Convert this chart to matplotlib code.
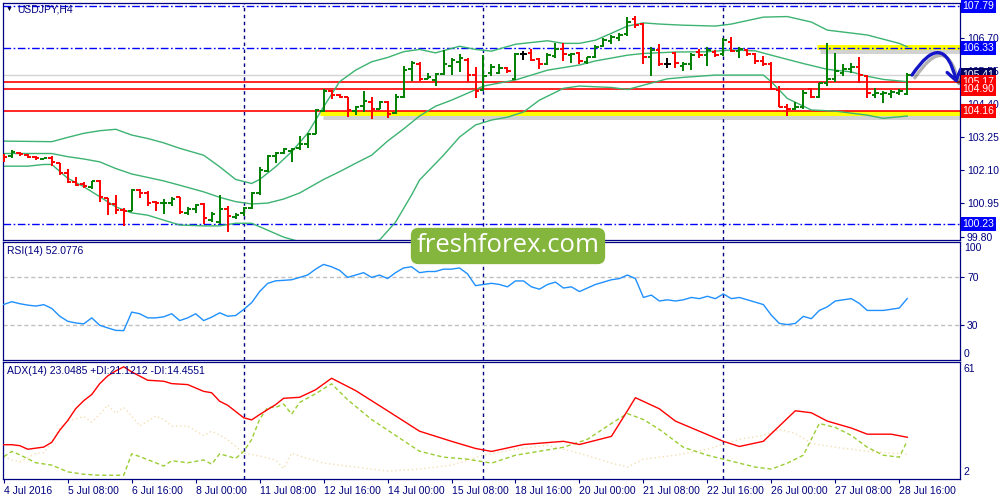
import matplotlib
matplotlib.use("Agg")
import matplotlib.pyplot as plt
import matplotlib.transforms as mtransforms
import matplotlib.patheffects as pe

# ---------------- data (USDJPY H4, bars 0..113) ----------------
opens = [102.60, 102.58, 102.70, 102.62, 102.57, 102.49, 102.54, 102.34, 102.00, 101.70,
         101.63, 101.51, 101.72, 101.12, 100.92, 100.72, 100.70, 101.41, 101.32, 101.00,
         100.95, 100.97, 101.16, 100.62, 100.76, 100.93, 100.39, 100.30, 100.75, 100.49,
         100.60, 100.80, 101.32, 102.08, 102.58, 102.70, 102.76, 102.86, 103.01, 103.35,
         104.16, 104.84, 104.71, 104.63, 104.16, 104.32, 104.48, 104.24, 104.46, 104.07,
         104.63, 105.60, 105.80, 105.28, 105.23, 105.43, 105.72, 105.86, 105.94, 105.40,
         104.88, 105.46, 105.48, 105.63, 105.25, 106.13, 106.17, 105.95, 105.80, 106.06,
         106.32, 106.09, 106.15, 105.84, 106.01, 106.40, 106.59, 106.67, 106.81, 107.33,
         107.17, 106.01, 106.27, 105.80, 106.15, 105.71, 105.80, 106.21, 106.09, 106.21,
         106.13, 106.55, 106.24, 106.27, 106.13, 105.89, 105.80, 104.88, 104.28, 104.22,
         104.28, 104.90, 104.63, 105.11, 105.25, 105.48, 105.60, 105.67, 105.36, 104.71,
         104.74, 104.74, 104.79, 104.76]
highs = [102.66, 102.80, 102.72, 102.65, 102.61, 102.54, 102.58, 102.36, 102.14, 101.87,
         101.70, 101.73, 101.75, 101.13, 101.24, 100.78, 101.44, 101.45, 101.38, 101.04,
         101.10, 101.18, 101.17, 100.82, 100.93, 100.95, 100.66, 101.23, 100.86, 100.60,
         100.83, 101.35, 102.22, 102.62, 102.74, 102.88, 102.86, 103.28, 103.40, 104.21,
         104.90, 104.88, 104.74, 104.65, 104.32, 104.85, 104.63, 104.51, 104.49, 104.76,
         105.71, 105.89, 105.86, 105.46, 105.48, 106.27, 105.98, 106.13, 105.98, 105.69,
         106.09, 105.78, 105.80, 105.69, 106.15, 106.24, 106.29, 105.98, 106.15, 106.50,
         106.50, 106.15, 106.21, 106.03, 106.44, 106.67, 106.79, 106.85, 107.40, 107.45,
         107.21, 106.36, 106.47, 105.98, 106.21, 105.86, 106.17, 106.29, 106.36, 106.27,
         106.70, 106.73, 106.38, 106.29, 106.17, 106.06, 105.86, 105.02, 104.39, 104.47,
         104.88, 104.94, 105.13, 106.50, 106.15, 105.80, 105.83, 106.01, 105.40, 104.94,
         104.85, 104.88, 104.90, 105.46]
lows = [102.39, 102.54, 102.60, 102.51, 102.45, 102.48, 102.24, 101.94, 101.64, 101.55,
        101.47, 101.44, 101.01, 100.54, 100.57, 100.17, 100.68, 101.12, 100.87, 100.69,
        100.59, 100.87, 100.58, 100.55, 100.60, 100.23, 100.29, 100.23, 99.97, 100.41,
        100.51, 100.75, 101.25, 102.05, 102.34, 102.68, 102.39, 102.80, 102.86, 103.34,
        104.13, 104.56, 104.59, 103.93, 104.01, 104.13, 103.86, 104.21, 103.92, 104.04,
        104.59, 105.20, 105.19, 105.25, 105.02, 105.40, 105.40, 105.51, 105.17, 104.59,
        104.85, 105.36, 105.43, 105.48, 105.23, 105.94, 105.89, 105.60, 105.75, 105.98,
        105.89, 105.83, 105.80, 105.78, 105.98, 106.38, 106.47, 106.59, 106.75, 107.02,
        105.80, 105.36, 105.71, 105.63, 105.63, 105.55, 105.57, 105.98, 105.71, 106.03,
        106.06, 106.21, 105.98, 106.06, 105.80, 105.71, 104.88, 104.28, 103.98, 104.19,
        104.24, 104.59, 104.59, 105.02, 105.17, 105.36, 105.48, 105.13, 104.59, 104.59,
        104.44, 104.59, 104.71, 104.71]
closes = [102.57, 102.74, 102.66, 102.57, 102.51, 102.53, 102.37, 102.01, 101.69, 101.58,
          101.56, 101.72, 101.16, 100.93, 100.72, 100.68, 101.42, 101.32, 100.98, 100.96,
          100.97, 101.09, 100.64, 100.75, 100.90, 100.43, 100.58, 100.75, 100.51, 100.55,
          100.80, 101.30, 102.10, 102.59, 102.69, 102.82, 102.82, 103.01, 103.35, 104.19,
          104.85, 104.71, 104.65, 104.19, 104.28, 104.49, 104.21, 104.46, 104.05, 104.63,
          105.57, 105.83, 105.28, 105.34, 105.43, 105.78, 105.92, 105.99, 105.40, 104.85,
          105.36, 105.69, 105.63, 105.54, 106.13, 106.13, 105.94, 105.80, 106.09, 106.32,
          106.12, 106.13, 105.89, 106.01, 106.38, 106.61, 106.73, 106.79, 107.25, 107.13,
          106.01, 106.27, 105.80, 105.80, 105.83, 105.80, 106.09, 106.09, 106.27, 106.09,
          106.61, 106.24, 106.29, 106.13, 105.89, 105.78, 104.90, 104.30, 104.24, 104.30,
          104.79, 104.63, 105.11, 105.25, 105.55, 105.60, 105.67, 105.40, 104.79, 104.79,
          104.79, 104.82, 104.85, 105.41]

# Bollinger bands (20, 2): (bar index, price)
bb_upper_idx = [0, 6, 8, 10, 12, 14, 16, 18, 20, 22, 25, 27, 29, 31, 32, 34, 36, 38, 40, 42, 44, 46,
                48, 50, 52, 54, 57, 59, 61, 64, 66, 68, 70, 72, 74, 76, 78, 80, 82, 85, 89, 91,
                95, 98, 101, 103, 108, 112, 113]
bb_upper = [103.11, 103.09, 103.24, 103.38, 103.47, 103.52, 103.32, 103.20, 103.05, 102.86, 102.62,
            102.22, 101.78, 101.64, 101.78, 102.22, 102.74, 103.38, 104.30, 105.17, 105.57, 105.86,
            106.01, 106.21, 106.29, 106.17, 106.40, 106.29, 106.23, 106.47, 106.53, 106.59, 106.50,
            106.50, 106.61, 106.85, 107.10, 107.21, 107.17, 107.13, 107.10, 107.17, 107.41, 107.43,
            107.24, 106.96, 106.79, 106.50, 106.38]
bb_mid_idx = [0, 6, 8, 10, 12, 14, 16, 18, 20, 22, 25, 27, 29, 31, 33, 35, 37, 40, 42, 44, 46, 48,
              50, 52, 54, 56, 58, 60, 64, 68, 72, 74, 78, 80, 84, 88, 91, 94, 96, 100, 103, 106,
              108, 110, 113]
bb_mid = [102.68, 102.68, 102.57, 102.49, 102.39, 102.16, 101.97, 101.85, 101.73, 101.58, 101.35,
          101.16, 101.01, 100.93, 100.96, 101.10, 101.31, 101.78, 102.05, 102.34, 102.62, 103.11,
          103.53, 103.98, 104.32, 104.53, 104.77, 105.02, 105.23, 105.57, 105.75, 105.89, 106.09,
          106.15, 106.20, 106.21, 106.27, 106.24, 106.09, 105.80, 105.60, 105.51, 105.36, 105.25,
          105.17]
bb_lower_idx = [0, 3, 5, 6, 8, 10, 12, 14, 16, 18, 20, 22, 25, 27, 29, 31, 33, 35, 37, 40, 43, 46,
                47, 49, 51, 52, 55, 57, 59, 61, 63, 65, 67, 70, 72, 76, 78, 80, 83, 85, 89, 95,
                96, 98, 101, 104, 108, 110, 113]
bb_lower = [102.24, 102.24, 102.30, 102.30, 101.82, 101.53, 101.18, 100.83, 100.62, 100.54, 100.37,
            100.20, 100.17, 100.17, 100.26, 100.26, 100.02, 99.78, 99.62, 99.55, 99.55, 99.62,
            99.68, 100.30, 101.24, 101.76, 102.62, 103.25, 103.67, 103.84, 103.94, 104.12, 104.53,
            104.94, 105.02, 104.97, 104.90, 105.05, 105.27, 105.32, 105.40, 105.40, 105.17, 104.59,
            104.19, 104.15, 104.01, 103.90, 103.98]

rsi = [47.1, 49.4, 47.7, 46.5, 45.7, 46.9, 43.7, 37.1, 32.8, 31.4, 30.6, 35.7, 29.4, 27.2, 25.1,
       24.9, 40.6, 39.2, 35.7, 35.7, 36.6, 39.2, 33.4, 35.7, 39.2, 33.4, 36.3, 40.0, 37.1, 37.7,
       42.8, 48.6, 58.0, 64.9, 67.1, 67.5, 68.0,
       70, 72, 77, 81, 79, 76, 70, 72, 74, 70, 72, 69, 74, 78, 79, 74, 75, 75, 77, 77,
       78, 73, 63, 64, 65, 64, 62, 67, 67, 62, 60, 64, 66, 61, 62, 58, 61, 64, 66, 68,
       69, 72, 69, 53, 55, 50, 51, 50, 51, 53, 52, 54, 52, 56, 52, 53, 51, 49, 47, 38,
       31, 30, 31, 37, 35, 42, 45, 50, 51, 52, 48, 42, 42, 42, 43, 44, 52.08]

adx_idx = [0, 1, 2, 3, 5, 6, 7, 8, 9, 10, 11, 12, 13, 14, 15, 16, 18, 20, 21, 23, 25, 26, 27, 28,
           30, 31, 32, 34, 35, 37, 39, 41, 44, 48, 52, 56, 59, 61, 65, 70, 72, 76, 78, 79, 82,
           84, 87, 90, 92, 95, 97, 99, 101, 103, 106, 108, 111, 113]
adx = [19.3, 19.3, 18.8, 17.0, 18.1, 20.5, 26.6, 31.5, 37.5, 41.5, 44.6, 50.1, 54.0, 56.5, 58.6,
       56.0, 51.8, 51.3, 50.1, 49.6, 46.2, 45.5, 41.2, 39.2, 32.9, 31.8, 34.5, 39.5, 42.7, 43.2,
       47.0, 52.8, 46.6, 36.4, 26.1, 21.0, 17.4, 15.9, 19.4, 21.0, 19.4, 23.5, 36.4, 43.0, 37.4,
       31.2, 26.1, 21.0, 18.4, 21.0, 28.7, 36.4, 35.4, 31.2, 27.7, 24.6, 24.6, 23.05]
pdi_idx = [0, 1, 2, 4, 6, 8, 10, 12, 15, 16, 17, 19, 20, 21, 23, 25, 26, 27, 29, 30, 31, 32, 33,
           34, 35, 36, 37, 39, 41, 43, 46, 49, 52, 55, 58, 61, 64, 67, 70, 73, 76, 78, 80, 82,
           85, 88, 90, 92, 94, 96, 98, 100, 101, 102, 104, 106, 108, 110, 112, 113]
pdi = [13.3, 15.9, 14.2, 10.2, 9.0, 5.6, 4.4, 3.9, 3.9, 14.7, 13.3, 10.2, 8.5, 11.2, 10.2, 11.6,
       9.5, 14.7, 12.4, 15.9, 21.9, 32.1, 38.1, 38.1, 39.8, 34.7, 40.6, 45.0, 50.0, 42.0, 32.0,
       24.0, 16.0, 13.0, 12.0, 10.0, 14.0, 16.0, 18.0, 22.0, 30.0, 35.0, 32.0, 27.0, 18.0, 14.0,
       12.0, 10.0, 8.0, 7.0, 10.0, 14.0, 22.0, 30.0, 28.0, 24.0, 18.0, 14.0, 13.0, 21.12]
mdi_idx = [0, 1, 2, 4, 5, 6, 7, 8, 10, 11, 12, 13, 14, 15, 16, 17, 19, 20, 21, 23, 25, 26, 28, 29,
           30, 32, 34, 35, 36, 37, 40, 44, 48, 52, 56, 60, 64, 68, 72, 76, 78, 80, 84, 88, 92,
           95, 97, 99, 101, 104, 108, 113]
mdi = [13.3, 11.6, 10.7, 15.0, 15.3, 20.5, 27.8, 31.2, 33.5, 30.7, 34.7, 39.3, 35.2, 38.1, 33.8,
       28.7, 33.8, 32.1, 28.7, 28.7, 23.9, 26.1, 21.9, 18.4, 15.0, 13.6, 11.6, 7.3, 15.0, 13.6,
       10.0, 8.0, 6.0, 7.0, 9.0, 14.0, 17.0, 19.0, 15.0, 10.0, 8.0, 12.0, 14.0, 17.0, 22.0, 24.0,
       27.0, 25.0, 20.0, 18.0, 16.0, 14.46]

x_tick_bars = [0, 8, 16, 24, 32, 40, 48, 56, 64, 72, 80, 88, 96, 104, 112]
x_tick_labels = ["4 Jul 2016", "5 Jul 08:00", "6 Jul 16:00", "8 Jul 00:00", "11 Jul 08:00",
                 "12 Jul 16:00", "14 Jul 00:00", "15 Jul 08:00", "18 Jul 16:00", "20 Jul 00:00",
                 "21 Jul 08:00", "22 Jul 16:00", "26 Jul 00:00", "27 Jul 08:00", "28 Jul 16:00"]
week_sep_bars = [30, 60, 90]
price_ticks = [106.70, 105.55, 104.40, 103.25, 102.10, 100.95, 99.80]
hline_blue = [107.79, 106.33, 100.23]
hline_red = [105.17, 104.90, 104.16]
bid_price = 105.41
yellow_levels = [(104.10, 39.6), (106.38, 101.7)]   # (price, start bar)

# ---------------- figure ----------------
NAVY = "#000080"
FONT = ["Liberation Sans", "DejaVu Sans"]
plt.rcParams["font.family"] = FONT
W, H = 1000, 500
fig = plt.figure(figsize=(10, 5), dpi=100)
fig.patch.set_facecolor("white")


def px_axes(left, top, right, bottom):
    return fig.add_axes([left / W, 1 - bottom / H, (right - left) / W, (bottom - top) / H])


ax = px_axes(3, 3, 960, 240)
ax_rsi = px_axes(3, 242, 960, 360)
ax_adx = px_axes(3, 362, 960, 479)
XMIN, XMAX = -0.1, 119.6

for a in (ax, ax_rsi, ax_adx):
    a.set_xlim(XMIN, XMAX)
    for s in a.spines.values():
        s.set_color(NAVY)
        s.set_linewidth(0.9)
    a.yaxis.tick_right()
    a.tick_params(axis="y", colors=NAVY, labelcolor=NAVY, labelsize=7.5, length=3, width=0.8,
                  pad=2)
    a.tick_params(axis="x", bottom=False, labelbottom=False)
    for b in week_sep_bars:
        a.axvline(b, color=NAVY, lw=1, ls=(0, (2.5, 2.5)), zorder=1)

# ---- main panel ----
ax.set_ylim(99.68, 107.90)
ax.set_yticks(price_ticks)
ax.set_yticklabels([f"{p:.2f}" for p in price_ticks])

ax.axhline(bid_price, color="#D3D3D3", lw=1, zorder=1)
for p, xs in yellow_levels:
    ax.plot([xs, XMAX], [p, p], color="#FFFF00", lw=3.6, solid_capstyle="butt", zorder=1.5,
            path_effects=[pe.SimpleLineShadow(offset=(2, -3), shadow_color="gray", alpha=0.35),
                          pe.Normal()])
for p in hline_red:
    ax.axhline(p, color="#FF0000", lw=1.2, zorder=2)
for p in hline_blue:
    ax.axhline(p, color="#0000FF", lw=1, ls=(0, (5.5, 1.8, 1.2, 1.8)), zorder=2.2)

band_c = "#3CB371"
ax.plot(bb_upper_idx, bb_upper, color=band_c, lw=1, zorder=2.5)
ax.plot(bb_mid_idx, bb_mid, color=band_c, lw=1, zorder=2.5)
ax.plot(bb_lower_idx, bb_lower, color=band_c, lw=1, zorder=2.5)

for i, (o, h, l, c) in enumerate(zip(opens, highs, lows, closes)):
    col = "#008000" if c > o else ("#FF0000" if c < o else "#000000")
    ax.vlines(i, l, h, color=col, lw=1.4, zorder=3)
    ax.hlines(o, i - 0.45, i, color=col, lw=1.4, zorder=3)
    ax.hlines(c, i, i + 0.45, color=col, lw=1.4, zorder=3)

# right axis price boxes
btrans = mtransforms.blended_transform_factory(ax.transAxes, ax.transData)
box_labels = [(107.79, "#0000FF"), (106.33, "#0000FF"), (100.23, "#0000FF"),
              (bid_price, "#000060"), (105.17, "#FF0000"), (104.90, "#FF0000"),
              (104.16, "#FF0000")]
for z, (p, col) in enumerate(box_labels):
    ax.text(1.0025, p, f"{p:.2f}", transform=btrans, ha="left", va="center", color="white",
            fontsize=7.5, zorder=10 + z, clip_on=False,
            bbox=dict(boxstyle="square,pad=0.18", fc=col, ec="none"))

# curved arrow
arr = ax.annotate("", xy=(119.2, 105.12), xytext=(113.6, 105.40), annotation_clip=False,
                  arrowprops=dict(arrowstyle="->,head_length=0.7,head_width=0.5", color="#1515C8",
                                  lw=2.4, connectionstyle="arc3,rad=-1.15", shrinkA=0, shrinkB=0),
                  zorder=12)
arr.arrow_patch.set_path_effects([pe.SimpleLineShadow(offset=(2, -2), alpha=0.3), pe.Normal()])

# ---- RSI panel ----
ax_rsi.set_ylim(0, 100)
ax_rsi.set_yticks([70, 30])
ax_rsi.set_yticklabels(["70", "30"])
for lv in (70, 30):
    ax_rsi.axhline(lv, color="#C0C0C0", lw=1, ls=(0, (3, 2)), zorder=1)
ax_rsi.plot(range(len(rsi)), rsi, color="#1E90FF", lw=1, zorder=3)
rtrans = mtransforms.blended_transform_factory(ax_rsi.transAxes, ax_rsi.transData)
ax_rsi.text(1.004, 95, "100", transform=rtrans, ha="left", va="center", color=NAVY, fontsize=7.5)
ax_rsi.text(1.004, 5, "0", transform=rtrans, ha="left", va="center", color=NAVY, fontsize=7.5)

# ---- ADX panel ----
ax_adx.set_ylim(2, 61)
ax_adx.set_yticks([])
atrans = mtransforms.blended_transform_factory(ax_adx.transAxes, ax_adx.transData)
ax_adx.text(1.004, 57.5, "61", transform=atrans, ha="left", va="center", color=NAVY, fontsize=7.5)
ax_adx.text(1.004, 5.5, "2", transform=atrans, ha="left", va="center", color=NAVY, fontsize=7.5)
ax_adx.plot(mdi_idx, mdi, color="#F5DEB3", lw=1, ls=(0, (1, 2)), zorder=2)
ax_adx.plot(pdi_idx, pdi, color="#9ACD32", lw=1, ls=(0, (3, 2)), zorder=2.5)
ax_adx.plot(adx_idx, adx, color="#FF0000", lw=1, zorder=3)

ax_adx.tick_params(axis="x", bottom=True, labelbottom=True, colors=NAVY, labelcolor=NAVY,
                   labelsize=7.5, length=3, width=0.8, pad=2)
ax_adx.set_xticks(x_tick_bars)
ax_adx.set_xticklabels(x_tick_labels)
for lab in ax_adx.get_xticklabels():
    lab.set_ha("left")

# ---- texts ----
fig.text(6 / W, 1 - 9 / H, "\u25bc", fontsize=5, color="#000040", va="center", ha="left")
fig.text(17 / W, 1 - 10 / H, "USDJPY,H4", fontsize=7.5, color=NAVY, va="center", ha="left")
fig.text(7 / W, 1 - 251 / H, "RSI(14) 52.0776", fontsize=7.5, color=NAVY, va="center", ha="left")
fig.text(7 / W, 1 - 371 / H, "ADX(14) 23.0485 +DI:21.1212 -DI:14.4551", fontsize=7.5,
         color=NAVY, va="center", ha="left")

# watermark
fig.text(508 / W, 1 - 246 / H, "freshforex.com", fontsize=18.5, color="white", ha="center",
         va="center", family=["Open Sans", "DejaVu Sans"], zorder=20,
         bbox=dict(boxstyle="round,pad=0.22,rounding_size=0.3", fc="#84B53C", ec="none"))

fig.savefig("out.png", dpi=100, facecolor="white")
